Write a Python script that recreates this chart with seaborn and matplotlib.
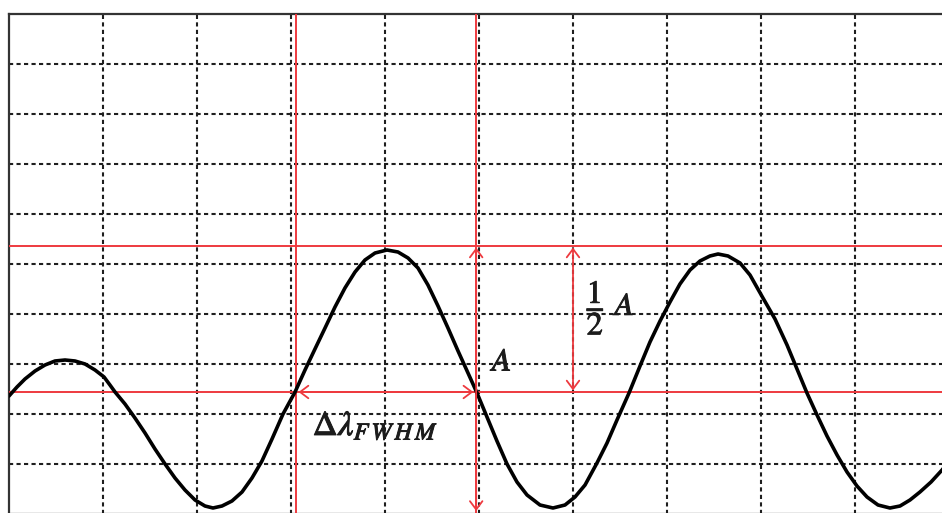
import matplotlib
matplotlib.use("Agg")
import matplotlib.pyplot as plt
import matplotlib.patheffects as pe
import seaborn as sns
import pandas as pd
from matplotlib.patches import FancyArrowPatch, ArrowStyle

# ---- data (in grid divisions: x 0..10, y 0..10 from bottom) ----
wave_x = [0.000, 0.085, 0.170, 0.277, 0.383, 0.489, 0.596, 0.702, 0.809, 0.915,
          1.011, 1.074, 1.128, 1.234, 1.340, 1.447, 1.553, 1.660, 1.766, 1.872,
          1.979, 2.085, 2.170, 2.266, 2.372, 2.479, 2.585, 2.691, 2.798, 2.915,
          3.043, 3.149, 3.255, 3.362, 3.468, 3.574, 3.681, 3.787, 3.894, 4.021,
          4.138, 4.245, 4.351, 4.457, 4.564, 4.670, 4.777, 4.883, 4.979, 5.085,
          5.191, 5.298, 5.404, 5.511, 5.649, 5.787, 5.915, 6.021, 6.128, 6.255,
          6.362, 6.468, 6.596, 6.713, 6.819, 6.926, 7.032, 7.138, 7.245, 7.351,
          7.457, 7.543, 7.649, 7.777, 7.883, 8.021, 8.149, 8.277, 8.383, 8.489,
          8.596, 8.702, 8.809, 8.915, 9.021, 9.128, 9.245, 9.372, 9.479, 9.585,
          9.691, 9.809, 9.926, 10.000]
wave_y = [2.36, 2.54, 2.70, 2.86, 2.98, 3.06, 3.08, 3.06, 3.00, 2.88,
          2.74, 2.58, 2.44, 2.20, 1.92, 1.62, 1.30, 1.00, 0.72, 0.48,
          0.28, 0.16, 0.12, 0.16, 0.26, 0.44, 0.72, 1.06, 1.50, 2.00,
          2.44, 2.88, 3.30, 3.72, 4.14, 4.52, 4.84, 5.08, 5.22, 5.28,
          5.24, 5.12, 4.92, 4.58, 4.16, 3.72, 3.26, 2.82, 2.42, 1.94,
          1.46, 1.00, 0.64, 0.38, 0.18, 0.12, 0.18, 0.34, 0.58, 1.02,
          1.42, 1.88, 2.42, 2.96, 3.44, 3.86, 4.24, 4.60, 4.88, 5.06,
          5.16, 5.20, 5.16, 5.02, 4.78, 4.32, 3.90, 3.38, 2.90, 2.42,
          1.98, 1.56, 1.18, 0.84, 0.56, 0.34, 0.18, 0.12, 0.16, 0.28,
          0.44, 0.64, 0.88, 1.06]

red_h_levels = [5.36, 2.44]          # max level, half level
red_v_positions = [3.05, 4.97]       # FWHM bounds

label_A = "$A$"
label_half = r"$\dfrac{1}{2}\ A$"
label_fwhm = r"$\Delta\lambda_{F\,W\,H\,M}$"

# ---- figure ----
sns.set_theme(style="white")
plt.rcParams["mathtext.fontset"] = "stix"
plt.rcParams["font.family"] = ["DejaVu Serif"]

W, H = 942, 513
fig = plt.figure(figsize=(W / 100, H / 100), dpi=100)
fig.patch.set_facecolor("white")
ax = fig.add_axes([9 / W, 1 - 14 / H - 500 / H, 940 / W, 500 / H])
ax.set_facecolor("white")

ax.set_xlim(0, 10)
ax.set_ylim(0, 10)
ax.set_xticks(range(1, 10))
ax.set_yticks(range(1, 10))
ax.tick_params(length=0, labelbottom=False, labelleft=False)
ax.grid(True, color="#1e1e1e", linestyle=(0, (2.0, 1.6)), linewidth=1.5)
for side in ["left", "top", "right", "bottom"]:
    ax.spines[side].set_color("#333333")
    ax.spines[side].set_linewidth(1.6)

red = "#ee3a3f"
for yv in red_h_levels:
    ax.axhline(yv, color=red, lw=1.4, zorder=3)
for xv in red_v_positions:
    ax.axvline(xv, color=red, lw=1.4, zorder=3)

df = pd.DataFrame({"x": wave_x, "y": wave_y})
sns.lineplot(data=df, x="x", y="y", ax=ax, color="black", lw=2.6,
             estimator=None, sort=False, zorder=4)
ax.set_xlabel("")
ax.set_ylabel("")

style = ArrowStyle("<->", head_length=6, head_width=4.5)


def arrow(p0, p1):
    a = FancyArrowPatch(p0, p1, arrowstyle=style, color=red, lw=1.3,
                        mutation_scale=1, shrinkA=0, shrinkB=0, zorder=5)
    ax.add_patch(a)


arrow((red_v_positions[1], red_h_levels[0] - 0.03), (red_v_positions[1], 0.06))
arrow((6.0, red_h_levels[0] - 0.03), (6.0, red_h_levels[1] + 0.03))
arrow((red_v_positions[0] + 0.03, red_h_levels[1]), (red_v_positions[1] - 0.03, red_h_levels[1]))

tc = "#1c1c1c"
fx = [pe.withStroke(linewidth=0.7, foreground=tc)]
ax.text(5.25, 3.04, label_A, fontsize=23, color=tc, ha="center", va="center",
        zorder=6, path_effects=fx)
ax.text(6.40, 4.14, label_half, fontsize=23, color=tc, ha="center", va="center",
        zorder=6, path_effects=fx)
ax.text(3.23, 1.78, label_fwhm, fontsize=25, color=tc, ha="left", va="center",
        zorder=6, path_effects=fx)

fig.savefig("out.png", dpi=100, facecolor="white")
